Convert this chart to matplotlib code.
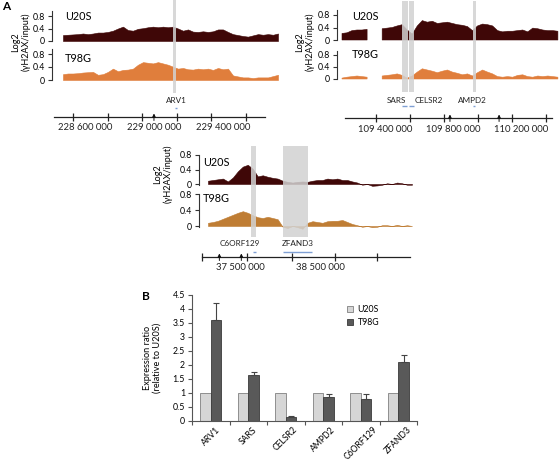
import numpy as np
import matplotlib
matplotlib.use("Agg")
import matplotlib.pyplot as plt
from matplotlib.patches import Patch

plt.rcParams['font.family'] = ['Lato', 'DejaVu Sans']

# ---------------- DATA ----------------
# Panel A, chr region 1 (ARV1)
TL_U20S = [0.19, 0.2, 0.21, 0.22, 0.24, 0.22, 0.24, 0.27, 0.27, 0.29,
           0.33, 0.4, 0.46, 0.35, 0.33, 0.39, 0.41, 0.44, 0.46, 0.44,
           0.46, 0.44, 0.46, 0.40, 0.33, 0.37, 0.30, 0.29, 0.31, 0.29,
           0.31, 0.37, 0.37, 0.29, 0.22, 0.19, 0.16, 0.14, 0.18, 0.22,
           0.2, 0.22, 0.2, 0.24]
TL_T98G = [0.18, 0.2, 0.2, 0.21, 0.23, 0.24, 0.25, 0.16, 0.18, 0.25,
           0.35, 0.27, 0.31, 0.32, 0.35, 0.47, 0.55, 0.53, 0.51, 0.55,
           0.51, 0.47, 0.41, 0.35, 0.37, 0.33, 0.32, 0.35, 0.33, 0.35,
           0.31, 0.37, 0.33, 0.35, 0.14, 0.11, 0.08, 0.08, 0.06, 0.08,
           0.08, 0.08, 0.12, 0.16]
TL_RANGE = (228.542e6, 229.785e6)
TL_TICKS = [228.6e6, 228.8e6, 229.0e6, 229.2e6, 229.4e6, 229.6e6]
TL_LABELS = [228.6e6, 229.0e6, 229.4e6]
TL_GENES = ['ARV1']
TL_GENE_POS = [229.195e6]
TL_GENE_SPAN = [(229.188e6, 229.200e6)]
TL_BANDS = [(229.178e6, 229.195e6)]
TL_ARROWS = [229.068e6]

# Panel A, chr region 2 (SARS, CELSR2, AMPD2)
TR_U20S = [0.21, 0.23, 0.3, 0.32, 0.32, 0.34, np.nan, np.nan,
           0.36, 0.38, 0.40, 0.45, 0.49, 0.32, 0.19, 0.45, 0.62, 0.57,
           0.6, 0.53, 0.55, 0.57, 0.53, 0.49, 0.47, 0.43, 0.3, 0.45,
           0.51, 0.49, 0.45, 0.3, 0.26, 0.28, 0.28, 0.3, 0.32, 0.26,
           0.38, 0.36, 0.32, 0.3, 0.3, 0.28]
TR_T98G = [0.03, 0.06, 0.08, 0.1, 0.08, 0.06, np.nan, np.nan,
           0.1, 0.12, 0.14, 0.17, 0.12, 0.03, 0.1, 0.23, 0.34, 0.3,
           0.26, 0.21, 0.26, 0.3, 0.23, 0.19, 0.14, 0.17, 0.1, 0.21,
           0.3, 0.23, 0.17, 0.08, 0.06, 0.08, 0.06, 0.12, 0.14, 0.08,
           0.06, 0.1, 0.08, 0.1, 0.08, 0.06]
TR_RANGE = (109.2e6, 110.47e6)
TR_TICKS = [109.4e6, 109.6e6, 109.8e6, 110.0e6, 110.2e6, 110.4e6]
TR_LABELS = [109.4e6, 109.8e6, 110.2e6]
TR_GENES = ['SARS', 'CELSR2', 'AMPD2']
TR_GENE_POS = [109.522e6, 109.71e6, 109.97e6]
TR_GENE_SPAN = [(109.553e6, 109.582e6), (109.594e6, 109.624e6), (109.971e6, 109.982e6)]
TR_BANDS = [(109.553e6, 109.588e6), (109.594e6, 109.624e6), (109.971e6, 109.988e6)]
TR_ARROWS = [109.835e6, 110.124e6]

# Panel A, chr region 3 (C6ORF129, ZFAND3)
MD_U20S = [0.09, 0.11, 0.13, 0.15, 0.07, 0.18, 0.35, 0.48, 0.53, 0.42,
           0.21, 0.24, 0.2, 0.17, 0.15, 0.09, 0.06, 0.04, 0.06, 0.07,
           0.06, 0.09, 0.11, 0.11, 0.15, 0.13, 0.15, 0.11, 0.11, 0.07,
           0.04, -0.02, 0.0, -0.05, -0.04, -0.02, 0.02, 0.0, 0.04, 0.02,
           -0.02, -0.02]
MD_T98G = [0.08, 0.1, 0.13, 0.18, 0.23, 0.28, 0.33, 0.37, 0.33, 0.27,
           0.22, 0.2, 0.23, 0.2, 0.17, -0.02, -0.05, 0.0, -0.03, -0.07,
           0.08, 0.12, 0.1, 0.08, 0.12, 0.13, 0.13, 0.15, 0.1, 0.05,
           0.02, -0.02, 0.0, -0.03, -0.02, 0.02, 0.02, 0.0, 0.03, 0.0,
           0.02, 0.0]
MD_RANGE = (37.1e6, 39.65e6)
MD_TICKS = [37.02e6, 37.58e6, 38.15e6, 38.68e6, 39.21e6]
MD_LABELS = [37.5e6, 38.5e6]
MD_GENES = ['C6ORF129', 'ZFAND3']
MD_GENE_POS = [37.5e6, 38.225e6]
MD_GENE_SPAN = [(37.66e6, 37.70e6), (38.0375e6, 38.40e6)]
MD_BANDS = [(37.6375e6, 37.70e6), (38.0375e6, 38.35e6)]
MD_ARROWS = [37.2375e6, 37.5125e6]

# Panel B
GENES_B = ['ARV1', 'SARS', 'CELSR2', 'AMPD2', 'C6ORF129', 'ZFAND3']
U20S_RATIO = [1, 1, 1, 1, 1, 1]
T98G_RATIO = [3.62, 1.65, 0.13, 0.86, 0.79, 2.1]
T98G_ERR = [0.58, 0.1, 0.04, 0.12, 0.18, 0.25]

# ---------------- STYLE ----------------
C_U20S = '#3f0707'
C_T98G = '#e07e3c'
C_T98G_MD = '#bf7d34'
C_BAND = '#d2d2d2'
C_GENE = '#7f9fd4'
C_AX = '#333333'

W, H = 560, 462
fig = plt.figure(figsize=(5.6, 4.62), dpi=100)


def px_axes(x0, y0, x1, y1):
    return fig.add_axes([x0 / W, 1 - y1 / H, (x1 - x0) / W, (y1 - y0) / H])


def fig_text(x, y, s, **kw):
    return fig.text(x / W, 1 - y / H, s, **kw)


def make_map(px_ref, g_ref_mb, px_per_mb):
    return lambda px: (g_ref_mb + (px - px_ref) / px_per_mb) * 1e6


def track(px0, px1, ytop, ybot, y0, y08, gm, vals, grange, color, bounds):
    ax = px_axes(px0, ytop, px1, ybot)
    s = (y0 - y08) / 0.8
    ax.set_ylim((y0 - ybot) / s, (y0 - ytop) / s)
    ax.set_xlim(gm(px0), gm(px1))
    v = np.array(vals, dtype=float)
    x = np.linspace(grange[0], grange[1], len(v))
    ax.fill_between(x, 0, v, color=color, lw=0.4, edgecolor=color)
    for sp in ['top', 'right', 'bottom']:
        ax.spines[sp].set_visible(False)
    ax.spines['left'].set_color(C_AX)
    ax.spines['left'].set_linewidth(0.8)
    ax.spines['left'].set_bounds(*bounds)
    ax.set_yticks([0, 0.4, 0.8], ['0', '0.4', '0.8'])
    ax.tick_params(axis='y', length=3, width=0.8, labelsize=6.3, pad=2, color=C_AX)
    ax.set_xticks([])
    ax.patch.set_visible(False)
    return ax


def genome_axis(px0, px1, yaxis, gm, ticks, labels, shift_px, px_per_mb, arrows):
    ax = px_axes(px0, yaxis - 6, px1, yaxis)
    ax.set_xlim(gm(px0), gm(px1))
    ax.set_ylim(0, 6)
    for sp in ['top', 'right', 'left']:
        ax.spines[sp].set_visible(False)
    ax.spines['bottom'].set_linewidth(0.9)
    ax.spines['bottom'].set_color('#222222')
    ax.set_yticks([])
    ax.set_xticks(ticks)
    ax.set_xticklabels([])
    ax.tick_params(axis='x', direction='inout', length=6, width=0.9, color='#222222')
    ax.patch.set_visible(False)
    for g in labels:
        txt = f"{int(round(g)):,}".replace(',', ' ')
        ax.text(g + shift_px / px_per_mb * 1e6, -11, txt, ha='center', va='center',
                fontsize=6.8, color='#222222', clip_on=False)
    for g in arrows:
        ax.annotate('', xy=(g, 3.5), xytext=(g, -3.5), annotation_clip=False,
                    arrowprops=dict(arrowstyle='-|>', lw=0.7, color='#111111',
                                    mutation_scale=5, shrinkA=0, shrinkB=0))
    return ax


def overlay(px0, px1, ytop, ybot, gm, bands, band_y, genes, gpos, gspan, label_y, line_y):
    ax = px_axes(px0, ytop, px1, ybot)
    ax.set_xlim(gm(px0), gm(px1))
    ax.set_ylim(ybot, ytop)
    ax.axis('off')
    for (b0, b1) in bands:
        ax.fill_betweenx(band_y, b0, b1, color=C_BAND, alpha=0.85, lw=0)
    for name, gp, (s0, s1) in zip(genes, gpos, gspan):
        ax.text(gp, label_y, name, ha='center', va='center', fontsize=5.9, color='#222222')
        ax.plot([s0, s1], [line_y, line_y], color=C_GENE, lw=1.0, solid_capstyle='butt')
    return ax


YLAB = 'Log2\n(\u03b3H2AX/input)'

# ---- top-left region ----
gm1 = make_map(73, 228.6, 173)
track(52, 280, 8, 44, 41, 16, gm1, TL_U20S, TL_RANGE, C_U20S, (0, 0.95))
track(52, 280, 47, 83, 80, 54, gm1, TL_T98G, TL_RANGE, C_T98G, (0, 0.95))
genome_axis(54, 265, 117, gm1, TL_TICKS, TL_LABELS, 12, 173, TL_ARROWS)
overlay(52, 280, 0, 115, gm1, TL_BANDS, [0, 93], TL_GENES, TL_GENE_POS, TL_GENE_SPAN, 100, 108)
fig_text(65, 16, 'U20S', fontsize=7.8, va='center', ha='left')
fig_text(65, 58, 'T98G', fontsize=7.8, va='center', ha='left')
fig_text(21, 42, YLAB, fontsize=6.5, rotation=90, ha='center', va='center', linespacing=1.05)

# ---- top-right region ----
gm2 = make_map(376, 109.4, 170)
track(337, 560, 8, 43, 40, 15, gm2, TR_U20S, TR_RANGE, C_U20S, (0, 0.95))
track(337, 560, 47, 82, 79, 55, gm2, TR_T98G, TR_RANGE, C_T98G, (0, 0.95))
genome_axis(345, 552, 118, gm2, TR_TICKS, TR_LABELS, 9, 170, TR_ARROWS)
overlay(337, 560, 0, 115, gm2, TR_BANDS, [1, 92], TR_GENES, TR_GENE_POS, TR_GENE_SPAN, 100, 106)
fig_text(352, 16, 'U20S', fontsize=7.8, va='center', ha='left')
fig_text(352, 55, 'T98G', fontsize=7.8, va='center', ha='left')
fig_text(305, 42, YLAB, fontsize=6.5, rotation=90, ha='center', va='center', linespacing=1.05)

# ---- middle region ----
gm3 = make_map(240, 37.5, 80)
track(199, 415, 148, 189, 184, 155, gm3, MD_U20S, MD_RANGE, C_U20S, (-0.03, 0.8))
track(199, 415, 190, 232, 226, 194, gm3, MD_T98G, MD_RANGE, C_T98G_MD, (-0.03, 0.8))
genome_axis(202, 410, 257, gm3, MD_TICKS, MD_LABELS, 0, 80, MD_ARROWS)
overlay(199, 415, 140, 255, gm3, MD_BANDS, [146, 237], MD_GENES, MD_GENE_POS, MD_GENE_SPAN, 243, 252)
fig_text(203, 162, 'U20S', fontsize=7.8, va='center', ha='left')
fig_text(203, 198, 'T98G', fontsize=7.8, va='center', ha='left')
fig_text(163, 174, YLAB, fontsize=6.5, rotation=90, ha='center', va='center', linespacing=1.05)

fig_text(2, 7, 'A', fontsize=8.5, fontweight='bold', va='center', ha='left')

# ---------------- Panel B ----------------
axB = px_axes(192, 295, 417, 421)
n = len(GENES_B)
centers = np.arange(n) + 0.5
bw = 0.28
axB.bar(centers - bw / 2, U20S_RATIO, width=bw, color='#d6d6d6', edgecolor='#808080', lw=0.6,
        label='U20S', zorder=2)
axB.bar(centers + bw / 2, T98G_RATIO, width=bw, color='#595959', edgecolor='#3a3a3a', lw=0.6,
        label='T98G', zorder=2)
axB.errorbar(centers + bw / 2, T98G_RATIO, yerr=[np.zeros(n), T98G_ERR], fmt='none',
             ecolor='#444444', elinewidth=0.8, capsize=2.5, capthick=0.8, zorder=3)
axB.set_xlim(0, n)
axB.set_ylim(0, 4.5)
axB.set_yticks(np.arange(0, 4.51, 0.5), ['0', '0.5', '1', '1.5', '2', '2.5', '3', '3.5', '4', '4.5'])
axB.set_xticks(centers)
axB.set_xticklabels(GENES_B, rotation=45, ha='center', va='top', fontsize=6.2)
axB.set_xticks(np.arange(0, n + 1), minor=True)
axB.tick_params(axis='x', which='major', length=0, pad=3)
axB.tick_params(axis='x', which='minor', length=3, width=0.8, color='#555555')
axB.tick_params(axis='y', length=3, width=0.8, labelsize=6.3, pad=2, color='#555555')
for sp in ['top', 'right']:
    axB.spines[sp].set_visible(False)
for sp in ['left', 'bottom']:
    axB.spines[sp].set_color('#555555')
    axB.spines[sp].set_linewidth(0.8)
axB.patch.set_visible(False)
fig_text(152, 358, 'Expression ratio\n(relative to U20S)', fontsize=6.6, rotation=90,
         ha='center', va='center', linespacing=1.1)
handles = [Patch(facecolor='#d6d6d6', edgecolor='#808080', lw=0.6),
           Patch(facecolor='#595959', edgecolor='#3a3a3a', lw=0.6)]
fig.legend(handles, ['U20S', 'T98G'], loc='upper left', bbox_to_anchor=(347 / W, 1 - 305 / H),
           frameon=False, fontsize=6.3, handlelength=0.7, handleheight=0.7,
           handletextpad=0.5, labelspacing=0.45, borderaxespad=0, borderpad=0)
fig_text(142, 297, 'B', fontsize=8.5, fontweight='bold', va='center', ha='left')

fig.savefig('out.png', dpi=100)
